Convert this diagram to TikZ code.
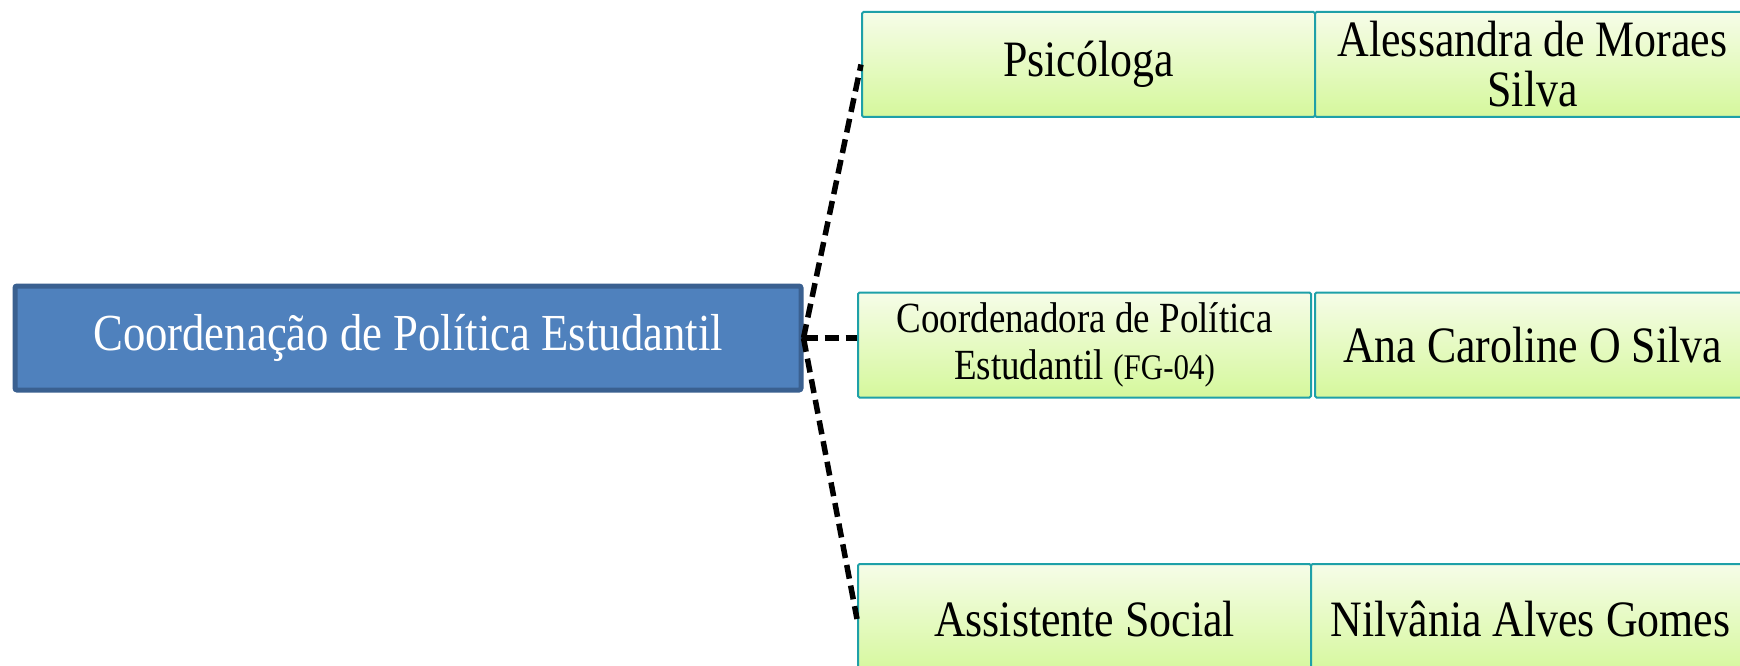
\documentclass[tikz,border=0pt]{standalone}
\usepackage{fontspec}
\setmainfont{Liberation Serif}[FakeStretch=0.86]
\usepackage{xcolor}
\usetikzlibrary{positioning}

\definecolor{coordblue}{HTML}{4F81BD}
\definecolor{coordedge}{HTML}{3A6090}
\definecolor{cargotop}{HTML}{F6FCE8}
\definecolor{cargobot}{HTML}{D5F89C}
\definecolor{cargoedge}{HTML}{1EA0A8}

\tikzset{
  cargo/.style={draw=cargoedge, line width=2pt, rounded corners=1.5pt,
    top color=cargotop, bottom color=cargobot, minimum height=105pt,
    inner sep=0pt, align=center, font=\fontsize{51}{50}\selectfont},
  elo/.style={line width=5.5pt, dash pattern=on 14pt off 7pt}
}

\begin{document}
\begin{tikzpicture}[x=1pt, y=-1pt]
    \useasboundingbox[fill=white] (0,0) rectangle (1740,666);

    % Coordination (main box)
    \node[draw=coordedge, fill=coordblue, line width=5pt, rounded corners=2pt,
        minimum width=786pt, minimum height=104pt, text=white,
        font=\fontsize{52}{54}\selectfont]
        (coord) at (408,338) {Coordenação de Política Estudantil};

    % Psychologist
    \node[cargo, minimum width=453pt] (psi) at (1088.5,64.5) {Psicóloga};
    \node[cargo, minimum width=435pt] (psinome) at (1532.5,64.5) {Alessandra de Moraes\\Silva};

    % Coordinator
    \node[cargo, minimum width=453pt, font=\fontsize{43}{47}\selectfont]
        (coordpol) at (1084.5,345) {\rule{0pt}{0pt}\raisebox{-4pt}{\parbox{450pt}{\centering Coordenadora de Política\\Estudantil {\fontsize{36}{36}\selectfont(FG-04)}}}};
    \node[cargo, minimum width=435pt] (coordnome) at (1532.5,345) {Ana Caroline O Silva};

    % Social worker
    \node[cargo, minimum width=453pt, minimum height=110pt] (social) at (1084.5,619) {Assistente Social};
    \node[cargo, minimum width=439pt, minimum height=110pt] (socialnome) at (1530.5,619) {Nilvânia Alves Gomes};

    % Links
    \draw[elo] (coord.east) -- (psi.west);
    \draw[elo] (coord.east) -- (coord.east -| coordpol.west);
    \draw[elo] (coord.east) -- (social.west);
\end{tikzpicture}
\end{document}
